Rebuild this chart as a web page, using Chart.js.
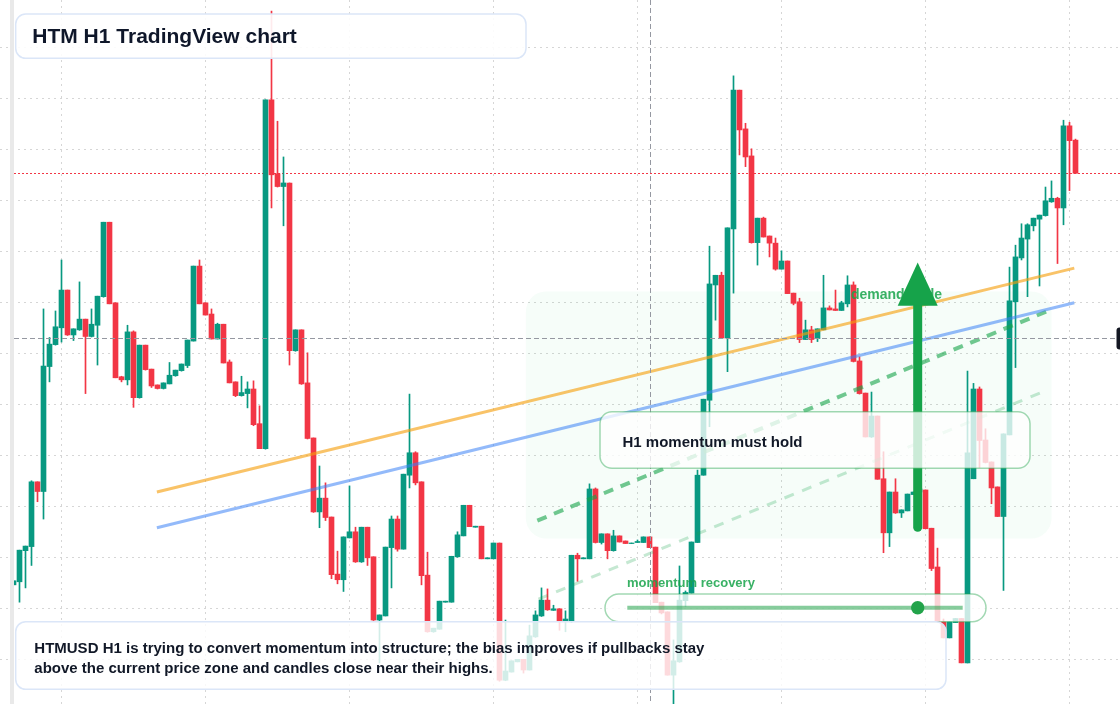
<!DOCTYPE html>
<html>
<head>
<meta charset="utf-8">
<title>HTM H1 TradingView chart</title>
<script src="https://cdn.jsdelivr.net/npm/chart.js@4.4.1/dist/chart.umd.min.js"></script>
<style>
  html, body { margin: 0; padding: 0; background: #ffffff; }
  #wrap { position: relative; width: 1120px; height: 704px; }
</style>
</head>
<body>
<div id="wrap"><canvas id="chart" width="1120" height="704"></canvas></div>
<script>
// HTMUSD H1 candles (price units, 10 per grid row)
const opens = [
  24.6, 25.2, 31.3, 32.1, 44.8, 42.9, 67.4, 71.7, 75.0, 82.4,
  73.6, 74.6, 76.7, 73.3, 75.5, 81.1, 95.7, 79.9, 65.4, 64.8,
  74.2, 61.3, 71.6, 66.9, 63.8, 63.1, 64.0, 65.6, 66.6, 67.6,
  72.4, 87.1, 79.9, 77.7, 72.8, 75.7, 68.3, 64.4, 61.7, 62.1,
  63.0, 56.2, 51.3, 119.7, 105.2, 102.7, 103.4, 70.5, 74.6, 64.2,
  53.4, 38.9, 41.6, 37.9, 26.7, 25.6, 33.8, 35.0, 29.1, 35.9,
  30.1, 17.7, 18.5, 31.9, 37.5, 31.6, 46.1, 50.5, 44.8, 26.5,
  15.4, 15.9, 21.2, 21.2, 30.1, 34.2, 40.2, 35.9, 36.1, 29.7,
  29.7, 32.8, 5.9, 7.5, 9.5, 10.0, 7.9, 14.4, 18.5, 21.6,
  19.6, 19.9, 17.4, 17.4, 30.4, 29.7, 29.7, 43.4, 32.9, 34.6,
  31.3, 34.2, 33.2, 32.7, 32.9, 32.9, 34.0, 32.0, 21.2, 19.3,
  6.9, 9.5, 21.5, 23.0, 32.9, 46.1, 60.8, 83.4, 85.3, 73.0,
  94.4, 121.6, 114.0, 108.7, 91.7, 96.5, 93.0, 91.6, 86.5, 88.1,
  81.8, 80.1, 72.7, 74.6, 72.9, 74.6, 78.9, 78.7, 78.4, 79.7,
  83.4, 68.5, 62.2, 53.6, 57.7, 45.4, 34.8, 42.8, 38.7, 39.1,
  42.3, 42.8, 43.2, 35.7, 28.1, 17.4, 14.2, 17.2, 18.0, 9.3,
  45.4, 63.0, 53.0, 48.7, 43.8, 38.0, 54.0, 80.1, 88.7, 92.4,
  95.0, 96.3, 97.0, 99.7, 100.4, 98.5, 114.6, 111.8
];
const highs = [
  25.4, 31.4, 32.2, 45.0, 44.8, 78.7, 73.1, 78.3, 88.3, 82.4,
  74.8, 84.0, 76.7, 78.7, 81.2, 95.7, 95.7, 79.9, 65.5, 75.5,
  74.4, 71.6, 71.6, 66.9, 63.8, 64.2, 68.2, 66.7, 67.9, 72.6,
  87.1, 88.3, 79.9, 78.7, 75.9, 75.7, 68.7, 64.4, 65.5, 64.4,
  64.6, 59.7, 119.7, 137.1, 115.5, 108.5, 103.4, 74.6, 74.6, 70.1,
  53.4, 47.9, 44.6, 37.9, 31.2, 34.0, 44.0, 35.9, 35.9, 35.9,
  30.1, 18.7, 32.0, 38.1, 38.1, 46.3, 62.0, 50.7, 44.8, 31.0,
  16.1, 21.4, 21.4, 30.2, 35.0, 40.2, 40.2, 36.1, 36.1, 29.9,
  32.8, 32.8, 17.7, 9.7, 10.0, 10.0, 16.7, 19.5, 24.0, 23.8,
  20.6, 19.9, 19.5, 30.4, 30.8, 29.9, 44.4, 43.6, 34.6, 34.6,
  35.3, 34.2, 33.2, 32.8, 33.4, 34.0, 34.0, 32.0, 21.2, 19.3,
  13.8, 28.3, 23.4, 33.0, 47.1, 61.0, 91.0, 85.3, 85.9, 94.6,
  124.4, 121.6, 115.1, 110.1, 96.5, 96.7, 93.0, 92.6, 90.1, 88.1,
  81.8, 80.8, 76.5, 75.3, 74.8, 85.3, 79.3, 82.4, 80.2, 85.2,
  84.0, 69.3, 62.2, 62.4, 57.7, 50.7, 42.8, 45.4, 39.3, 42.4,
  42.8, 43.6, 43.2, 35.7, 31.8, 17.9, 17.4, 18.0, 18.0, 66.5,
  64.1, 63.4, 55.2, 48.7, 43.8, 54.2, 86.9, 91.2, 95.4, 95.4,
  96.5, 97.1, 102.6, 103.8, 100.6, 115.7, 115.3, 112.0
];
const lows = [
  24.6, 21.2, 24.0, 28.4, 40.9, 37.5, 64.4, 71.6, 72.2, 73.5,
  72.5, 74.5, 62.1, 73.2, 67.7, 81.0, 79.7, 65.2, 64.4, 63.8,
  59.4, 61.2, 66.7, 63.3, 63.0, 63.0, 64.0, 65.5, 66.5, 67.2,
  72.4, 79.7, 77.5, 72.8, 72.8, 68.1, 64.2, 61.5, 61.6, 59.3,
  55.8, 51.3, 51.2, 98.5, 102.6, 95.0, 67.7, 70.4, 63.9, 53.2,
  38.8, 35.8, 37.2, 25.8, 24.8, 23.3, 33.8, 29.0, 29.0, 28.4,
  17.6, 9.3, 18.5, 24.0, 31.2, 31.6, 43.6, 44.2, 24.6, 15.3,
  15.3, 15.9, 21.2, 21.2, 30.0, 34.2, 36.0, 35.9, 29.7, 29.7,
  29.7, 5.7, 5.8, 7.5, 9.5, 7.3, 7.9, 14.3, 18.4, 19.6,
  19.6, 15.7, 15.4, 17.2, 25.3, 29.7, 29.7, 32.8, 32.6, 29.7,
  31.2, 33.0, 32.7, 32.7, 32.9, 32.9, 31.9, 21.1, 18.9, 6.9,
  1.2, 9.4, 20.3, 23.0, 32.9, 46.1, 55.6, 76.5, 73.0, 66.4,
  81.8, 108.9, 106.6, 91.6, 87.3, 92.8, 88.9, 86.3, 86.5, 81.7,
  79.5, 72.1, 72.7, 72.1, 72.3, 74.6, 78.5, 78.4, 78.4, 79.1,
  68.3, 62.0, 53.6, 53.5, 45.3, 30.9, 32.1, 38.6, 37.8, 39.1,
  42.3, 42.6, 35.6, 27.4, 17.4, 14.2, 14.2, 17.2, 9.3, 9.3,
  45.4, 47.6, 48.5, 40.5, 38.0, 23.5, 54.0, 67.2, 88.3, 81.1,
  94.0, 83.2, 96.9, 99.6, 87.6, 95.2, 101.9, 105.3
];
const closes = [
  25.4, 31.4, 32.2, 44.8, 42.9, 67.5, 71.8, 75.2, 82.4, 73.6,
  74.8, 76.7, 73.3, 75.7, 81.2, 95.7, 79.7, 65.2, 64.8, 74.2,
  61.3, 71.6, 66.8, 63.6, 63.1, 64.2, 65.7, 66.7, 67.9, 72.6,
  87.1, 79.7, 77.5, 72.8, 75.7, 68.1, 64.2, 61.7, 62.3, 63.0,
  56.0, 51.3, 119.7, 105.0, 102.7, 103.4, 70.5, 74.6, 64.0, 53.3,
  38.9, 41.6, 37.8, 26.6, 25.6, 34.0, 35.0, 29.1, 35.9, 29.9,
  17.7, 18.7, 32.0, 37.5, 31.6, 46.3, 50.5, 44.6, 26.4, 15.4,
  16.1, 21.4, 21.4, 30.2, 34.4, 40.2, 36.0, 36.1, 29.7, 29.9,
  32.8, 5.9, 7.7, 9.7, 10.0, 7.9, 14.6, 18.7, 21.6, 19.7,
  19.9, 17.4, 17.9, 30.4, 29.7, 29.9, 43.4, 32.9, 34.6, 31.3,
  34.2, 33.0, 32.7, 32.8, 33.1, 34.0, 31.9, 21.1, 19.1, 6.9,
  9.7, 21.6, 23.1, 33.0, 46.1, 61.0, 83.6, 85.3, 73.0, 94.6,
  121.6, 113.8, 108.5, 91.7, 96.5, 92.8, 91.6, 86.5, 88.1, 81.7,
  79.8, 72.7, 74.6, 72.7, 74.8, 78.9, 78.5, 78.4, 79.9, 83.4,
  68.4, 62.1, 53.6, 57.7, 45.3, 34.8, 42.8, 38.7, 39.3, 42.4,
  42.8, 43.4, 35.6, 27.8, 17.4, 14.2, 17.4, 18.0, 9.3, 50.5,
  63.0, 52.9, 48.6, 43.6, 38.0, 54.2, 80.3, 88.9, 92.6, 95.2,
  96.5, 97.1, 99.9, 100.4, 98.5, 114.6, 111.7, 105.3
];

// grid rows / columns (price levels and bar indexes)
const priceGrid = [10, 20, 30, 40, 50, 60, 70, 80, 90, 100, 110, 120, 130];
const timeGrid = [8, 32, 56, 80, 104, 128, 152, 176];

// drawn trend lines: [barIndex, price]
const upperTrend = [[23.9, 42.8], [176.8, 86.7]];
const lowerTrend = [[23.9, 35.8], [176.8, 79.9]];
const momentumTrend = [[87.3, 37.2], [172.2, 78.2]];
const supportTrend = [[87.5, 21.8], [172.3, 62.8]];

const lastPrice = closes[closes.length - 1];
const crossIndex = 106;
const crossPrice = 73.0;

const demandZone = { from: 85.4, to: 173.0, top: 82.1, bottom: 33.7 };
const demandArrow = { index: 150.7, tip: 87.8, headBase: 79.3, tail: 35.9 };

const UP = '#089981';
const DOWN = '#f23645';
const GREEN = '#16a34a';
const FONT = '"Liberation Sans", Arial, Helvetica, sans-serif';

const idx = opens.map((_, i) => i);
const candleColors = idx.map(i => closes[i] >= opens[i] ? UP : DOWN);
const toPoints = pts => pts.map(([x, y]) => ({ x, y }));

function box(ctx, x, y, w, h, r, fill, stroke, lw) {
  ctx.beginPath();
  ctx.roundRect(x, y, w, h, r);
  if (fill) { ctx.fillStyle = fill; ctx.fill(); }
  if (stroke) { ctx.lineWidth = lw || 1.5; ctx.strokeStyle = stroke; ctx.stroke(); }
}

const overlays = {
  id: 'overlays',
  beforeDatasetsDraw(chart) {
    const { ctx, chartArea, scales: { x, y } } = chart;
    ctx.save();
    // demand zone
    const zx0 = x.getPixelForValue(demandZone.from);
    const zx1 = x.getPixelForValue(demandZone.to);
    const zy0 = y.getPixelForValue(demandZone.top);
    const zy1 = y.getPixelForValue(demandZone.bottom);
    box(ctx, zx0, zy0, zx1 - zx0, zy1 - zy0, 20, 'rgba(34,197,94,0.04)');

    // last price line
    const py = Math.round(y.getPixelForValue(lastPrice)) + 0.5;
    ctx.strokeStyle = DOWN;
    ctx.lineWidth = 1;
    ctx.setLineDash([2, 2]);
    ctx.beginPath();
    ctx.moveTo(14, py);
    ctx.lineTo(chartArea.right, py);
    ctx.stroke();
    ctx.restore();
  },
  afterDatasetsDraw(chart) {
    const { ctx, chartArea, scales: { x, y } } = chart;
    ctx.save();

    // crosshair
    const cx = Math.round(x.getPixelForValue(crossIndex)) + 0.5;
    const cy = Math.round(y.getPixelForValue(crossPrice)) + 0.5;
    ctx.strokeStyle = '#9598a1';
    ctx.lineWidth = 1;
    ctx.setLineDash([5, 3]);
    ctx.beginPath();
    ctx.moveTo(14, cy); ctx.lineTo(chartArea.right, cy);
    ctx.moveTo(cx, chartArea.top); ctx.lineTo(cx, chartArea.bottom);
    ctx.stroke();
    ctx.setLineDash([]);

    // left pane border
    ctx.fillStyle = '#e9e9e9';
    ctx.fillRect(10, 0, 4, chartArea.bottom);

    // crosshair price label (cut off at the right edge)
    box(ctx, 1116.5, cy - 11, 30, 22, 3, '#131722');

    // demand node label + arrow
    ctx.font = 'bold 14px ' + FONT;
    ctx.fillStyle = 'rgba(22,163,74,0.85)';
    ctx.textBaseline = 'alphabetic';
    ctx.fillText('demand node', 851, 298.5);

    const ax = x.getPixelForValue(demandArrow.index);
    const aTip = y.getPixelForValue(demandArrow.tip);
    const aBase = y.getPixelForValue(demandArrow.headBase);
    const aTail = y.getPixelForValue(demandArrow.tail);
    ctx.strokeStyle = GREEN;
    ctx.lineWidth = 9;
    ctx.lineCap = 'round';
    ctx.beginPath();
    ctx.moveTo(ax, aBase);
    ctx.lineTo(ax, aTail);
    ctx.stroke();
    ctx.lineCap = 'butt';
    ctx.fillStyle = GREEN;
    ctx.beginPath();
    ctx.moveTo(ax, aTip);
    ctx.lineTo(ax - 20, aBase);
    ctx.lineTo(ax + 20, aBase);
    ctx.closePath();
    ctx.fill();

    // H1 note
    box(ctx, 600, 411.7, 430, 56.6, 12, 'rgba(255,255,255,0.78)', 'rgba(34,163,74,0.42)', 1.5);
    ctx.font = 'bold 15px ' + FONT;
    ctx.fillStyle = '#111827';
    ctx.fillText('H1 momentum must hold', 622.5, 446.5);

    // momentum recovery pill
    ctx.font = 'bold 13px ' + FONT;
    ctx.fillStyle = 'rgba(22,163,74,0.85)';
    ctx.fillText('momentum recovery', 627, 587);
    box(ctx, 605, 594, 381, 27.7, 13.8, 'rgba(255,255,255,0.78)', 'rgba(34,163,74,0.42)', 1.5);
    ctx.strokeStyle = 'rgba(34,163,74,0.55)';
    ctx.lineWidth = 4;
    ctx.beginPath();
    ctx.moveTo(627.3, 607.7);
    ctx.lineTo(962.7, 607.7);
    ctx.stroke();
    ctx.fillStyle = '#22a34a';
    ctx.beginPath();
    ctx.arc(ax, 607.7, 6.7, 0, Math.PI * 2);
    ctx.fill();

    // summary box
    box(ctx, 15.7, 621.7, 930.3, 67.6, 10, 'rgba(255,255,255,0.82)', '#dbe6f8', 1.5);
    ctx.font = 'bold 15px ' + FONT;
    ctx.fillStyle = '#111827';
    ctx.fillText('HTMUSD H1 is trying to convert momentum into structure; the bias improves if pullbacks stay', 34.3, 653.3);
    ctx.fillText('above the current price zone and candles close near their highs.', 34.3, 673.3);

    // title
    box(ctx, 15.7, 14, 510.3, 44.3, 10, 'rgba(255,255,255,0.9)', '#dbe6f8', 1.5);
    ctx.font = 'bold 21px ' + FONT;
    ctx.fillStyle = '#0f172a';
    ctx.fillText('HTM H1 TradingView chart', 32.3, 43.3);

    ctx.restore();
  }
};

const gridColor = '#d6d6d6';

new Chart(document.getElementById('chart'), {
  type: 'bar',
  data: {
    datasets: [
      {
        type: 'line', label: 'upper trend', data: toPoints(upperTrend),
        borderColor: 'rgba(245,158,11,0.62)', borderWidth: 3, pointRadius: 0, order: 0
      },
      {
        type: 'line', label: 'lower trend', data: toPoints(lowerTrend),
        borderColor: 'rgba(59,130,246,0.55)', borderWidth: 3, pointRadius: 0, order: 0
      },
      {
        type: 'line', label: 'momentum trend', data: toPoints(momentumTrend),
        borderColor: 'rgba(22,163,74,0.6)', borderWidth: 4, borderDash: [10, 8], pointRadius: 0, order: 0
      },
      {
        type: 'line', label: 'support trend', data: toPoints(supportTrend),
        borderColor: 'rgba(22,163,74,0.25)', borderWidth: 3, borderDash: [10, 9], pointRadius: 0, order: 0
      },
      {
        label: 'body',
        data: idx.map(i => ({ x: i, y: [opens[i], closes[i]] })),
        backgroundColor: candleColors,
        barThickness: 5, grouped: false, borderWidth: 0, borderSkipped: false, order: 1
      },
      {
        label: 'wick',
        data: idx.map(i => ({ x: i, y: [lows[i], highs[i]] })),
        backgroundColor: candleColors,
        barThickness: 1, grouped: false, borderWidth: 0, borderSkipped: false, order: 2
      }
    ]
  },
  options: {
    responsive: false,
    animation: false,
    events: [],
    layout: { padding: 0 },
    plugins: { legend: { display: false }, tooltip: { enabled: false } },
    scales: {
      x: {
        type: 'linear',
        min: -2.25,
        max: -2.25 + 1120 / 6,
        offset: false,
        ticks: { display: false },
        grid: { color: gridColor, drawTicks: false, offset: false },
        border: { display: false, dash: [2, 4] },
        afterBuildTicks: s => { s.ticks = timeGrid.map(v => ({ value: v })); }
      },
      y: {
        type: 'linear',
        position: 'right',
        min: (710.3 - 704) / 5.1,
        max: 710.3 / 5.1,
        ticks: { display: false },
        grid: { color: gridColor, drawTicks: false },
        border: { display: false, dash: [2, 4] },
        afterBuildTicks: s => { s.ticks = priceGrid.map(v => ({ value: v })); }
      }
    }
  },
  plugins: [overlays]
});
</script>
</body>
</html>
